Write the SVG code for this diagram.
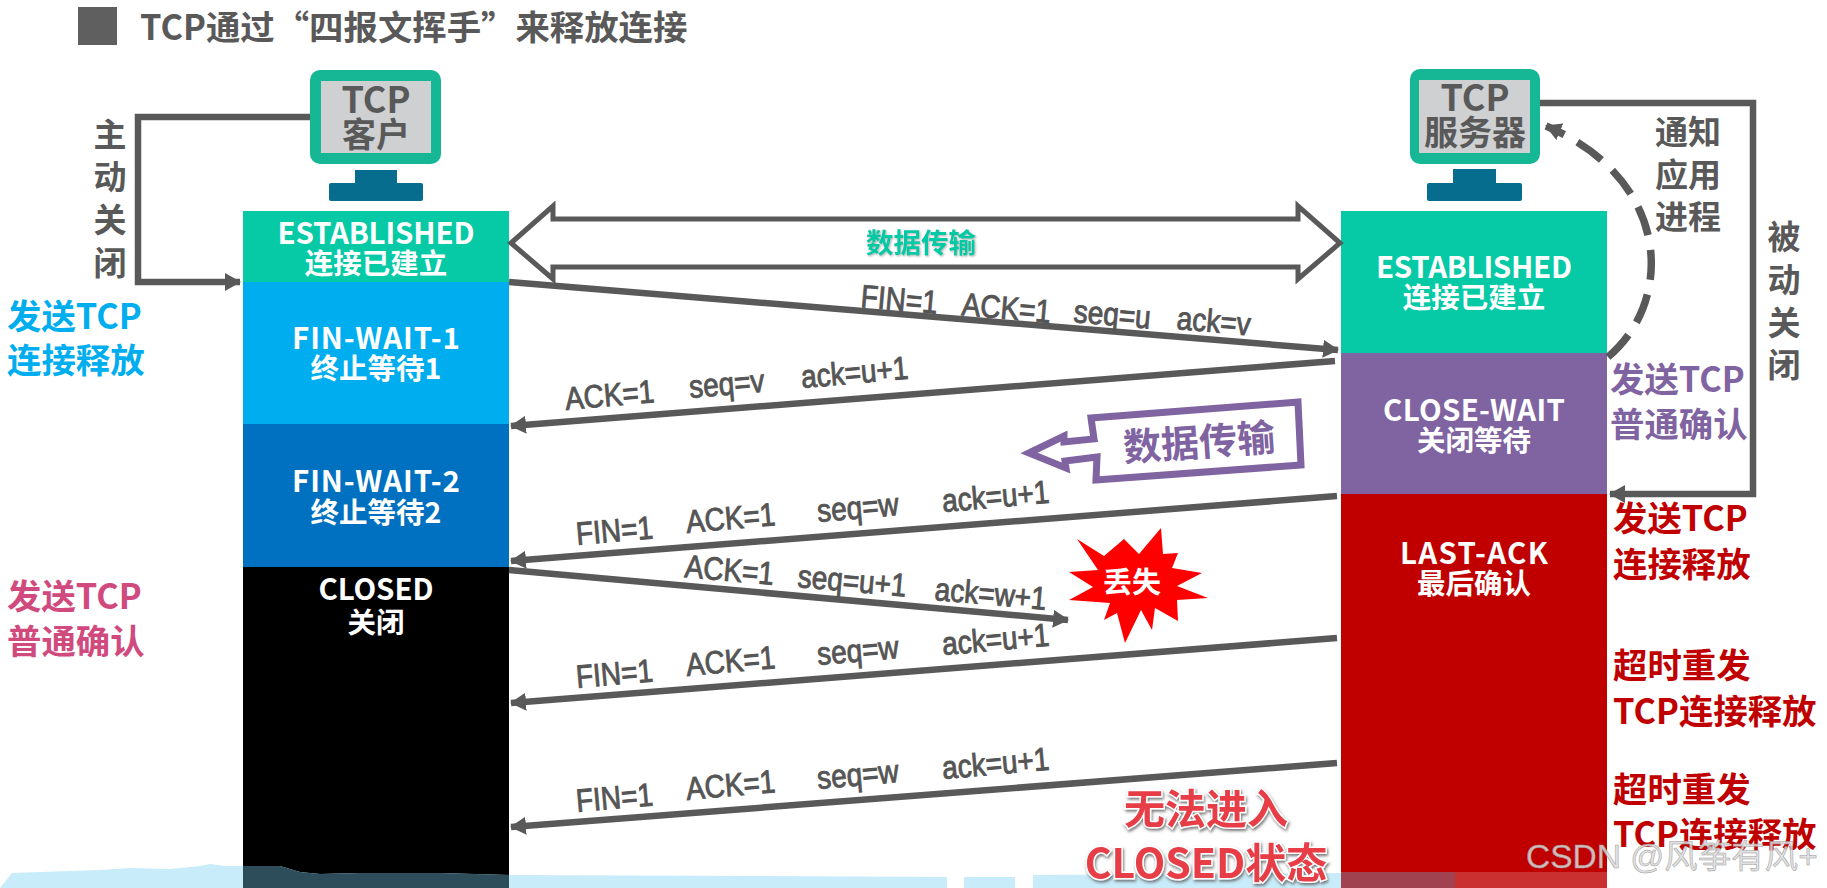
<svg xmlns="http://www.w3.org/2000/svg" width="1827" height="888" viewBox="0 0 1827 888">
<style>
text{font-family:"Noto Sans CJK SC","Noto Sans",sans-serif;font-weight:700}
.c{text-anchor:middle}
.w{fill:#fff;font-size:28.5px}
.e{font-size:29.5px}
.mon{fill:#15b794}.scr{fill:#cfd0d2}.st{fill:#076d8f}
.mt{fill:#595959;font-size:36px;text-anchor:middle}
.mc{fill:#595959;font-size:34px;text-anchor:middle}
.g{fill:#595959;font-size:33px;text-anchor:middle}
.s{font-size:34.4px}
.l{font-family:"Liberation Sans",Arial,sans-serif;font-weight:400;font-size:28px;fill:#555;stroke:#555;stroke-width:.8}
.ln{stroke:#595959;stroke-width:6.5;fill:none}
.big{fill:#e63c46;font-size:41px;text-anchor:middle;stroke:#fff;stroke-width:3;paint-order:stroke;filter:url(#sh)}
</style>
<defs>
<marker id="ah" markerUnits="userSpaceOnUse" markerWidth="18" markerHeight="20" refX="15" refY="10" orient="auto"><path d="M0 1L16 10L0 19z" fill="#595959"/></marker>
<filter id="sh" x="-10%" y="-10%" width="120%" height="130%"><feDropShadow dx="1" dy="2" stdDeviation="1.5" flood-color="#555" flood-opacity=".8"/></filter>
<filter id="sh2" x="-10%" y="-20%" width="120%" height="140%"><feDropShadow dx="1" dy="1" stdDeviation="1" flood-color="#777" flood-opacity=".6"/></filter>
</defs>
<rect width="1827" height="888" fill="#fff"/>
<rect x="78" y="7" width="39" height="38" fill="#5f5f5f"/>
<text x="140" y="40" font-size="34.4" fill="#595959" id="title">TCP通过“四报文挥手”来释放连接</text>

<g id="client">
<rect class="mon" x="310" y="70" width="131" height="94" rx="10"/><rect class="scr" x="321" y="81" width="110" height="72"/>
<rect class="st" x="355" y="170" width="42" height="14"/><rect class="st" x="329" y="183" width="94" height="18" rx="2"/>
<text class="mt" x="376" y="113">TCP</text><text class="mc" x="376" y="147">客户</text>
</g>
<g id="server">
<rect class="mon" x="1410" y="69" width="130" height="95" rx="10"/><rect class="scr" x="1419" y="80" width="111" height="73"/>
<rect class="st" x="1453" y="169" width="43" height="15"/><rect class="st" x="1427" y="183" width="95" height="18" rx="2"/>
<text class="mt" x="1475" y="111">TCP</text><text class="mc" x="1475" y="145">服务器</text>
</g>
<g id="client-states">
<rect x="243" y="211" width="266" height="71" fill="#06c9a6"/>
<rect x="243" y="282" width="266" height="142" fill="#00aeef"/>
<rect x="243" y="424" width="266" height="143" fill="#0070c0"/>
<rect x="243" y="567" width="266" height="321" fill="#000"/>
<text class="w e c" x="376" y="244" textLength="197">ESTABLISHED</text><text class="w c" x="376" y="274">连接已建立</text>
<text class="w e c" x="376" y="349" textLength="168">FIN-WAIT-1</text><text class="w c" x="376" y="379">终止等待1</text>
<text class="w e c" x="376" y="492" textLength="168">FIN-WAIT-2</text><text class="w c" x="376" y="523">终止等待2</text>
<text class="w e c" x="376" y="600" textLength="115">CLOSED</text><text class="w c" x="376" y="633">关闭</text>
</g>
<g id="server-states">
<rect x="1341" y="211" width="266" height="142" fill="#06c9a6"/>
<rect x="1341" y="353" width="266" height="141" fill="#8063a1"/>
<rect x="1341" y="494" width="266" height="394" fill="#c00000"/>
<text class="w e c" x="1474" y="278" textLength="196">ESTABLISHED</text><text class="w c" x="1474" y="308">连接已建立</text>
<text class="w e c" x="1474" y="421" textLength="182">CLOSE-WAIT</text><text class="w c" x="1474" y="451">关闭等待</text>
<text class="w e c" x="1474" y="564" textLength="148">LAST-ACK</text><text class="w c" x="1474" y="594">最后确认</text>
</g>
<g id="connectors">
<path class="ln" d="M310 117H138V282H240" marker-end="url(#ah)"/>
<path class="ln" d="M1540 103H1753V494H1610" marker-end="url(#ah)"/>
<path class="ln" d="M1608 357C1676 300 1670 178 1546 126" stroke-width="7.5" stroke-dasharray="30 15" marker-end="url(#ah)" style="stroke-width:7.5"/>
<path d="M511 243L553 206V219H1298V206L1340 243L1298 279V267H553V279Z" fill="#fff" stroke="#595959" stroke-width="5"/>
<path class="ln" d="M509 282L1338 350" marker-end="url(#ah)"/>
<path class="ln" d="M1335 361L511 426" marker-end="url(#ah)"/>
<path class="ln" d="M1337 496L511 561" marker-end="url(#ah)"/>
<path class="ln" d="M509 570L1068 620" marker-end="url(#ah)"/>
<path class="ln" d="M1337 638L511 703" marker-end="url(#ah)"/>
<path class="ln" d="M1337 763L511 827" marker-end="url(#ah)"/>
</g>
<text class="c" x="921" y="253" font-size="27.5" fill="#06c9a6" filter="url(#sh2)">数据传输</text>
<g id="labels">
<text class="l" transform="translate(860 307) rotate(5) scale(1 1.15)">FIN=1</text>
<text class="l" transform="translate(961 315) rotate(5) scale(1 1.15)">ACK=1</text>
<text class="l" transform="translate(1073 322) rotate(5) scale(1 1.15)">seq=u</text>
<text class="l" transform="translate(1176 329) rotate(5) scale(1 1.15)">ack=v</text>
<text class="l" transform="translate(566 410) rotate(-5) scale(1 1.15)">ACK=1</text>
<text class="l" transform="translate(690 398) rotate(-5) scale(1 1.15)">seq=v</text>
<text class="l" transform="translate(802 388) rotate(-5) scale(1 1.15)">ack=u+1</text>
<text class="l" transform="translate(577 545) rotate(-5) scale(1 1.15)">FIN=1</text>
<text class="l" transform="translate(687 533) rotate(-5) scale(1 1.15)">ACK=1</text>
<text class="l" transform="translate(818 522) rotate(-5) scale(1 1.15)">seq=w</text>
<text class="l" transform="translate(943 512) rotate(-5) scale(1 1.15)">ack=u+1</text>
<text class="l" transform="translate(684 577) rotate(5) scale(1 1.15)">ACK=1</text>
<text class="l" transform="translate(797 587) rotate(5) scale(1 1.15)">seq=u+1</text>
<text class="l" transform="translate(934 600) rotate(5) scale(1 1.15)">ack=w+1</text>
<text class="l" transform="translate(577 688) rotate(-5) scale(1 1.15)">FIN=1</text>
<text class="l" transform="translate(687 676) rotate(-5) scale(1 1.15)">ACK=1</text>
<text class="l" transform="translate(818 665) rotate(-5) scale(1 1.15)">seq=w</text>
<text class="l" transform="translate(943 655) rotate(-5) scale(1 1.15)">ack=u+1</text>
<text class="l" transform="translate(577 812) rotate(-5) scale(1 1.15)">FIN=1</text>
<text class="l" transform="translate(687 800) rotate(-5) scale(1 1.15)">ACK=1</text>
<text class="l" transform="translate(818 789) rotate(-5) scale(1 1.15)">seq=w</text>
<text class="l" transform="translate(943 779) rotate(-5) scale(1 1.15)">ack=u+1</text>
</g>
<g id="callout">
<path d="M1029 453L1064 436V442L1094 439L1091 418L1298 402L1301 465L1096 480L1097 457L1065 461L1066 468Z" fill="#fff" stroke="#8063a1" stroke-width="7"/>
<text class="c" transform="translate(1200 456) rotate(-4)" font-size="38" fill="#8063a1">数据传输</text>
</g>
<g id="lost">
<path d="M1077 539L1104 556L1124 539L1139 554L1161 528L1163 554L1178 553L1172 568L1202 573L1177 586L1208 598L1177 600L1178 621L1155 608L1152 630L1141 610L1125 643L1117 613L1104 620L1110 603L1069 600L1093 587L1069 572L1098 570Z" fill="#f00"/>
<text class="c" x="1132" y="593" font-size="29" fill="#fff">丢失</text>
</g>
<g id="side-text">
<g class="g">
<text x="110" y="147">主</text><text x="110" y="189">动</text><text x="110" y="232">关</text><text x="110" y="275">闭</text>
<text x="1784" y="249">被</text><text x="1784" y="292">动</text><text x="1784" y="335">关</text><text x="1784" y="377">闭</text>
<text x="1688" y="144">通知</text><text x="1688" y="187">应用</text><text x="1688" y="229">进程</text>
</g>
<g class="s" fill="#00aeef"><text x="7" y="329">发送TCP</text><text x="7" y="373">连接释放</text></g>
<g class="s" fill="#d04a7e"><text x="7" y="609">发送TCP</text><text x="7" y="654">普通确认</text></g>
<g class="s" fill="#8063a1"><text x="1610" y="392">发送TCP</text><text x="1610" y="437">普通确认</text></g>
<g class="s" fill="#c00000"><text x="1613" y="531">发送TCP</text><text x="1613" y="577">连接释放</text><text x="1613" y="678">超时重发</text><text x="1613" y="724">TCP连接释放</text><text x="1613" y="802">超时重发</text><text x="1613" y="847">TCP连接释放</text></g>
</g>
<g id="band">
<path d="M0 888L12 873L100 870L130 868L170 869L200 866L210 864L225 866L243 866L280 866L300 872L320 874L360 873L440 873L509 875L760 876L947 877V888ZM964 888V877L1015 877V888ZM1033 888V875L1341 873V888Z" fill="#c8ecfa"/>
<path d="M243 866L280 866L300 872L320 874L360 873L440 873L509 875V888H243Z" fill="#2d4d5a"/>
<rect x="1341" y="872" width="114" height="16" fill="#a0424f"/><rect x="1455" y="872" width="152" height="16" fill="#c9302f"/>
</g>
<text class="big" x="1206" y="824">无法进入</text>
<text class="big" x="1206" y="878">CLOSED状态</text>
<text id="watermark" x="1526" y="868" font-size="33.5" style="font-family:'Liberation Sans','Noto Sans CJK SC',sans-serif;font-weight:400" fill="#ddd" fill-opacity=".85" stroke="#999" stroke-width=".5">CSDN @风筝有风+</text>
</svg>
